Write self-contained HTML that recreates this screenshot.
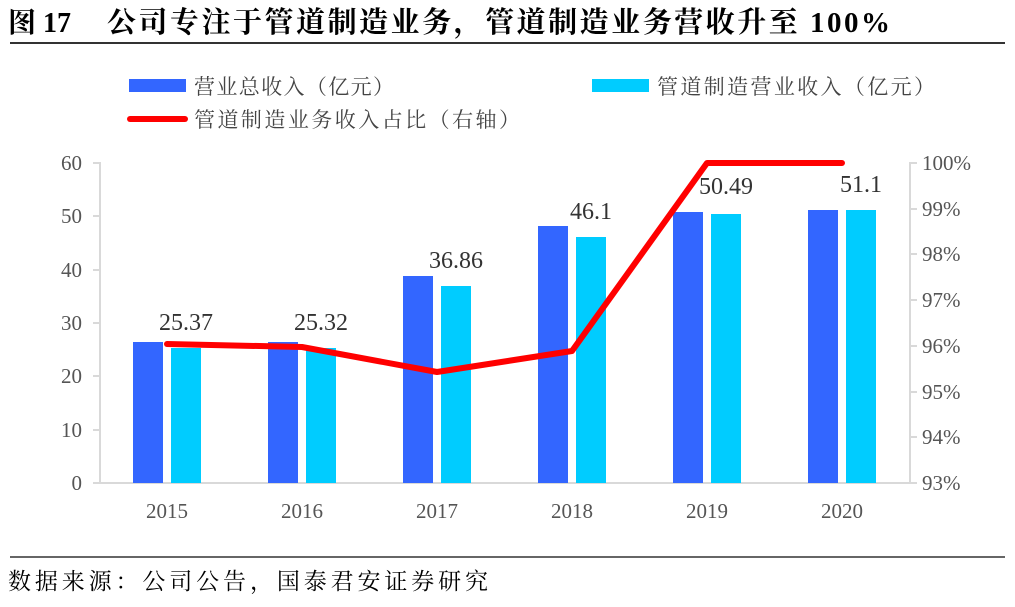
<!DOCTYPE html><html><head><meta charset="utf-8"><style>body{margin:0;background:#fff;width:1015px;height:602px;overflow:hidden}</style></head><body>
<svg width="1015" height="602" xmlns="http://www.w3.org/2000/svg" font-family="Liberation Serif, Noto Serif CJK SC, serif">
<text x="8" y="32" font-size="28" font-weight="bold" fill="#000">图 17</text>
<text x="107" y="32" font-size="29" font-weight="bold" fill="#000" font-family="Liberation Serif, Noto Serif CJK SC, serif" textLength="783" lengthAdjust="spacing">公司专注于管道制造业务，管道制造业务营收升至 100%</text>
<line x1="10" y1="43" x2="1005" y2="43" stroke="#333" stroke-width="2"/>
<rect x="129" y="79" width="57" height="13" fill="#3366FF"/>
<text x="194" y="94" font-size="21" fill="#444" font-family="Noto Serif CJK SC, serif" textLength="200" lengthAdjust="spacing">营业总收入（亿元）</text>
<rect x="592" y="79" width="57" height="13" fill="#00CCFF"/>
<text x="657" y="94" font-size="21" fill="#444" font-family="Noto Serif CJK SC, serif" textLength="278" lengthAdjust="spacing">管道制造营业收入（亿元）</text>
<line x1="130" y1="119" x2="185" y2="119" stroke="#f00" stroke-width="6" stroke-linecap="round"/>
<text x="194" y="127" font-size="21" fill="#444" font-family="Noto Serif CJK SC, serif" textLength="326" lengthAdjust="spacing">管道制造业务收入占比（右轴）</text>
<g stroke="#d9d9d9" stroke-width="2"><line x1="100" y1="162" x2="100" y2="483"/><line x1="910" y1="162" x2="910" y2="483"/><line x1="93" y1="483" x2="917" y2="483"/>
<line x1="93" y1="163" x2="100" y2="163"/><line x1="93" y1="216" x2="100" y2="216"/><line x1="93" y1="270" x2="100" y2="270"/><line x1="93" y1="323" x2="100" y2="323"/><line x1="93" y1="376" x2="100" y2="376"/><line x1="93" y1="430" x2="100" y2="430"/>
<line x1="910" y1="163" x2="917" y2="163"/><line x1="910" y1="209" x2="917" y2="209"/><line x1="910" y1="254" x2="917" y2="254"/><line x1="910" y1="300" x2="917" y2="300"/><line x1="910" y1="346" x2="917" y2="346"/><line x1="910" y1="392" x2="917" y2="392"/><line x1="910" y1="437" x2="917" y2="437"/></g>
<g font-size="21" fill="#555" text-anchor="end"><text x="82" y="170">60</text><text x="82" y="223">50</text><text x="82" y="277">40</text><text x="82" y="330">30</text><text x="82" y="383">20</text><text x="82" y="437">10</text><text x="82" y="490">0</text></g>
<g font-size="21" fill="#555"><text x="922" y="170">100%</text><text x="922" y="216">99%</text><text x="922" y="261">98%</text><text x="922" y="307">97%</text><text x="922" y="353">96%</text><text x="922" y="399">95%</text><text x="922" y="444">94%</text><text x="922" y="490">93%</text></g>
<g font-size="21" fill="#555" text-anchor="middle"><text x="167" y="518">2015</text><text x="302" y="518">2016</text><text x="437" y="518">2017</text><text x="572" y="518">2018</text><text x="707" y="518">2019</text><text x="842" y="518">2020</text></g>
<g fill="#3366FF"><rect x="133" y="342" width="30" height="141"/><rect x="268" y="342" width="30" height="141"/><rect x="403" y="276" width="30" height="207"/><rect x="538" y="226" width="30" height="257"/><rect x="673" y="212" width="30" height="271"/><rect x="808" y="210" width="30" height="273"/></g>
<g fill="#00CCFF"><rect x="171" y="348" width="30" height="135"/><rect x="306" y="348" width="30" height="135"/><rect x="441" y="286" width="30" height="197"/><rect x="576" y="237" width="30" height="246"/><rect x="711" y="214" width="30" height="269"/><rect x="846" y="210" width="30" height="273"/></g>
<polyline points="167,344 302,347 437,372 572,351 707,163 842,163" fill="none" stroke="#f00" stroke-width="6" stroke-linejoin="round" stroke-linecap="round"/>
<g font-size="24" fill="#333" text-anchor="middle"><text x="186" y="330">25.37</text><text x="321" y="330">25.32</text><text x="456" y="268">36.86</text><text x="591" y="219">46.1</text><text x="726" y="194">50.49</text><text x="861" y="192">51.1</text></g>
<line x1="10" y1="557" x2="1005" y2="557" stroke="#333" stroke-width="1.5"/>
<text x="8" y="589" font-size="23" fill="#000" font-family="Noto Serif CJK SC, serif" textLength="480" lengthAdjust="spacing">数据来源：公司公告，国泰君安证券研究</text>
</svg></body></html>
